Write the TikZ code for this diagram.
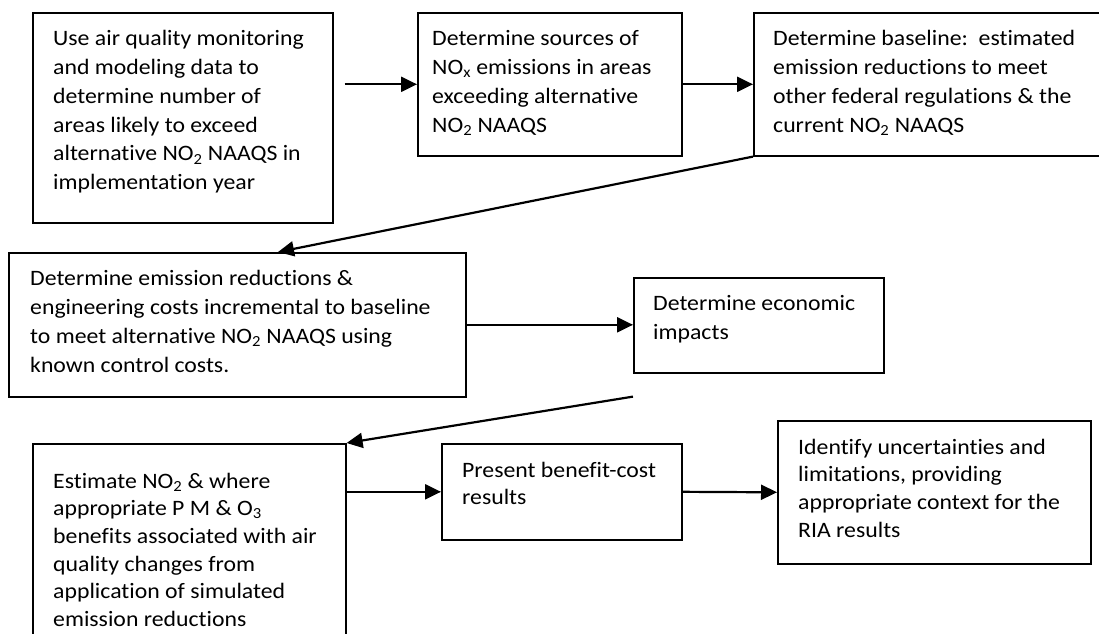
\documentclass[tikz,border=0pt]{standalone}
\usepackage{fontspec}
\newfontfamily\calfont[FakeStretch=1.08,Ligatures=NoCommon]{Carlito}
\usetikzlibrary{arrows.meta,calc}
\newcommand\mystrut{\rule{0pt}{18pt}}
\begin{document}
\begin{tikzpicture}[x=1pt,y=-1pt,
  box/.style={draw,line width=1.6pt,inner sep=0pt,anchor=north west},
  txtwide/.style={anchor=north west,inner sep=0pt,align=left,font=\calfont\fontsize{22}{28.8}\selectfont},
  txtlow/.style={anchor=north west,inner sep=0pt,align=left,font=\calfont\fontsize{22}{27.6}\selectfont},
  arr/.style={line width=2.2pt,-{Triangle[length=16pt,width=15pt]}}]
\path[fill=white] (0,0) rectangle (1099,633);
\useasboundingbox (0,0) rectangle (1099,633);
% boxes
\node[box,minimum width=300pt,minimum height=210pt] (b1) at (32,12) {};
\node[box,minimum width=264pt,minimum height=143pt] (b2) at (417,12) {};
\node[box,minimum width=349pt,minimum height=143pt] (b3) at (753,12) {};
\node[box,minimum width=457pt,minimum height=144pt] (b4) at (8,252) {};
\node[box,minimum width=250pt,minimum height=95pt] (b5) at (633,277) {};
\node[box,minimum width=313pt,minimum height=195pt] (b6) at (32,443) {};
\node[box,minimum width=240pt,minimum height=96pt] (b7) at (441,443) {};
\node[box,minimum width=313pt,minimum height=143pt] (b8) at (777,420) {};
% texts
\node[txtwide] (t1) at (53,27.5) {\mystrut Use air quality monitoring\\and modeling data to\\determine number of\\areas likely to exceed\\alternative NO\textsubscript{2} NAAQS in\\implementation year};
\node[txtwide] (t2) at (432,27.5) {\mystrut Determine sources of\\NO\textsubscript{x} emissions in areas\\exceeding alternative\\NO\textsubscript{2} NAAQS};
\node[txtwide] (t3) at (773,27.5) {\mystrut Determine baseline:\ \ estimated\\emission reductions to meet\\other federal regulations \& the\\current NO\textsubscript{2} NAAQS};
\node[txtwide] (t4) at (30,267.5) {\mystrut Determine emission reductions \&\\engineering costs incremental to baseline\\to meet alternative NO\textsubscript{2} NAAQS using\\known control costs.};
\node[txtwide] (t5) at (653,292.5) {\mystrut Determine economic\\impacts};
\node[txtlow] (t6) at (53,470) {\mystrut Estimate NO\textsubscript{2} \& where\\appropriate P M \& O\textsubscript{3}\\benefits associated with air\\quality changes from\\application of simulated\\emission reductions};
\node[txtlow] (t7) at (462,459) {\mystrut Present benefit-cost\\results};
\node[txtlow] (t8) at (798,436) {\mystrut Identify uncertainties and\\limitations, providing\\appropriate context for the\\RIA results};
% connectors
\coordinate (s1) at ($(b1.east|-b2.west)+(11,0)$);
\coordinate (e3) at ($(b4.north west)+(270,0)$);
\coordinate (s5) at ($(b5.south west)+(0,23)$);
\draw[arr] (s1) -- (b2.west);
\draw[arr] (b2.east) -- (b3.west);
\draw[arr] (b3.south west) -- (e3);
\draw[arr] (b4.east) -- (b4.east -| b5.west);
\draw[arr] (s5) -- (b6.north east);
\draw[arr] (b6.east |- b7.west) -- (b7.west);
\draw[arr] (b7.east) -- (b8.west);
\end{tikzpicture}
\end{document}
